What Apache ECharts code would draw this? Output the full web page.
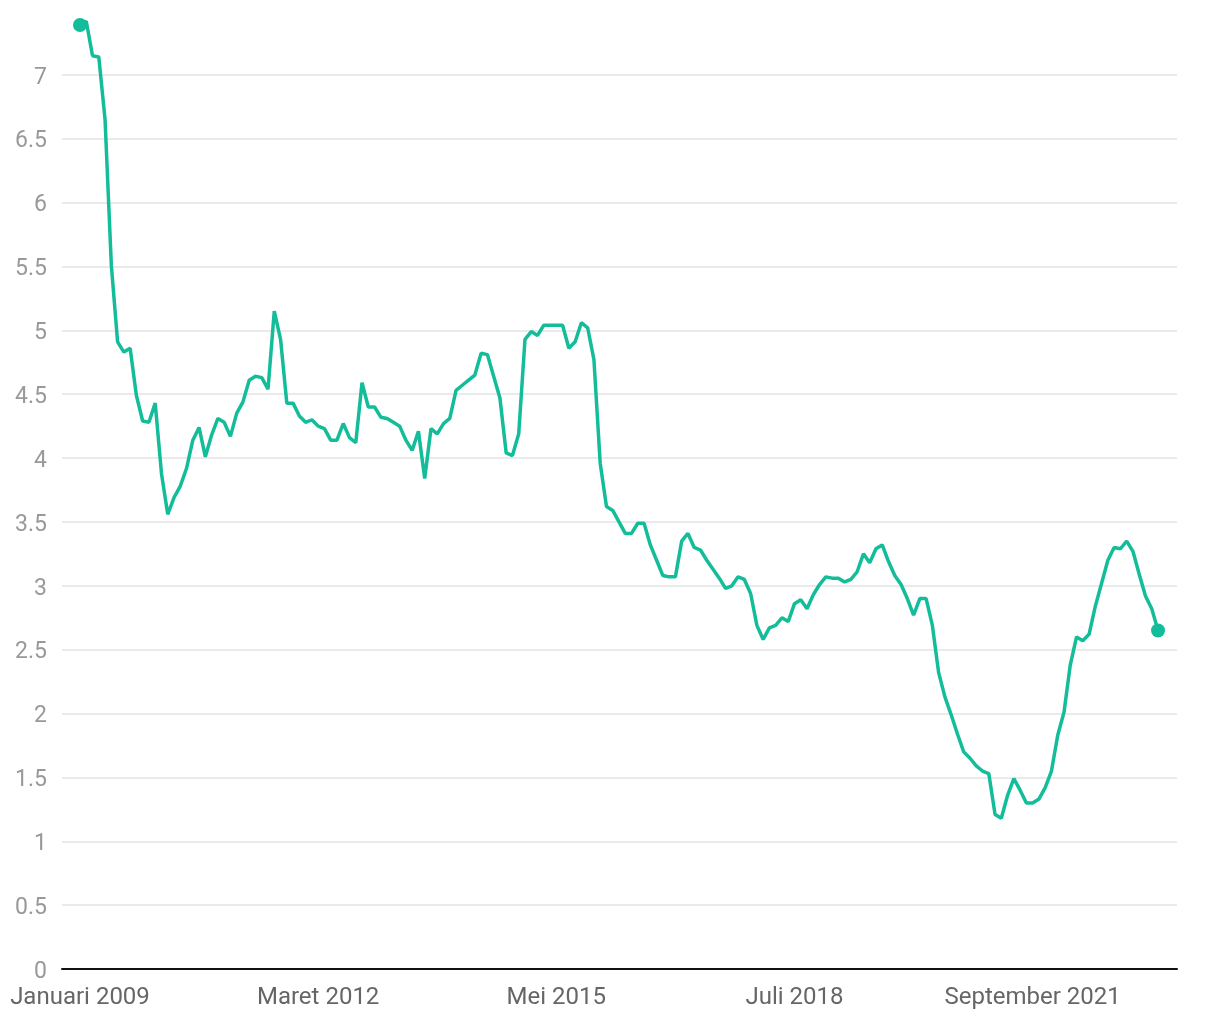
<!DOCTYPE html>
<html>
<head>
<meta charset="utf-8">
<script src="https://cdn.jsdelivr.net/npm/echarts@6/dist/echarts.min.js"></script>
<style>
html,body{margin:0;padding:0;background:#fff;}
#chart{width:1220px;height:1020px;}
</style>
</head>
<body>
<div id="chart"></div>
<script>
const monthNames = ["Januari","Februari","Maret","April","Mei","Juni","Juli","Agustus","September","Oktober","November","Desember"];
const startYear = 2009;
const values = [
7.39,7.42,7.15,7.14,6.65,5.51,4.91,4.83,4.86,4.49,4.29,4.28,
4.43,3.88,3.56,3.69,3.78,3.92,4.14,4.24,4.01,4.18,4.31,4.28,
4.17,4.35,4.44,4.61,4.64,4.63,4.54,5.15,4.93,4.43,4.43,4.33,
4.28,4.30,4.25,4.23,4.14,4.14,4.27,4.16,4.12,4.59,4.40,4.40,
4.32,4.31,4.28,4.25,4.14,4.06,4.21,3.84,4.23,4.19,4.27,4.31,
4.53,4.57,4.61,4.65,4.82,4.81,4.64,4.47,4.04,4.02,4.19,4.93,
4.99,4.96,5.04,5.04,5.04,5.04,4.86,4.91,5.06,5.02,4.77,3.96,
3.62,3.59,3.50,3.41,3.41,3.49,3.49,3.32,3.20,3.08,3.07,3.07,
3.35,3.41,3.30,3.28,3.20,3.13,3.06,2.98,3.00,3.07,3.05,2.94,
2.69,2.58,2.67,2.69,2.75,2.72,2.86,2.89,2.82,2.93,3.01,3.07,
3.06,3.06,3.03,3.05,3.11,3.25,3.18,3.29,3.32,3.19,3.08,3.01,
2.90,2.77,2.90,2.90,2.69,2.32,2.13,1.99,1.84,1.70,1.65,1.59,
1.55,1.53,1.21,1.18,1.36,1.49,1.40,1.30,1.30,1.33,1.42,1.55,
1.83,2.01,2.38,2.60,2.57,2.62,2.84,3.02,3.20,3.30,3.29,3.35,
3.27,3.09,2.92,2.82,2.65
];
const categories = values.map((_, i) => monthNames[i % 12] + " " + (startYear + Math.floor(i / 12)));
const xTickIndices = [0, 38, 76, 114, 152];

const seriesData = values.map((v, i) => [i, v]);
const lastIdx = values.length - 1;

const chart = echarts.init(document.getElementById('chart'), null, {renderer: 'canvas'});
chart.setOption({
  animation: false,
  backgroundColor: '#ffffff',
  textStyle: {fontFamily: 'Roboto'},
  grid: {left: 62, right: 43, top: 11, bottom: 51, containLabel: false},
  xAxis: {
    type: 'value',
    min: -2.87,
    max: lastIdx + 3.03,
    axisLine: {show: true, lineStyle: {color: '#111', width: 2}},
    axisTick: {show: false},
    splitLine: {show: false},
    axisLabel: {
      customValues: xTickIndices,
      formatter: v => categories[Math.round(v)] || '',
      color: '#666',
      fontSize: 24,
      fontFamily: 'Roboto',
      margin: 17
    }
  },
  yAxis: {
    type: 'value',
    min: 0,
    max: 7.5,
    interval: 0.5,
    axisLine: {show: false},
    axisTick: {show: false},
    splitLine: {show: true, showMaxLine: false, showMinLine: false, lineStyle: {color: '#e3e3e3', width: 1.5}},
    axisLabel: {
      showMaxLabel: false,
      color: '#999',
      fontSize: 23,
      fontFamily: 'Roboto',
      margin: 15,
      formatter: v => '{a|' + v + '}',
      rich: {
        a: {color: '#999', fontSize: 23, fontFamily: 'Roboto', padding: [6, 0, 0, 0]}
      }
    }
  },
  series: [{
    type: 'line',
    data: seriesData,
    showSymbol: true,
    showAllSymbol: true,
    symbol: 'circle',
    symbolSize: (val, params) => (params.dataIndex === 0 || params.dataIndex === lastIdx) ? 14 : 0,
    itemStyle: {color: '#13bd9a'},
    lineStyle: {color: '#13bd9a', width: 3.5},
    z: 3
  }]
});
</script>
</body>
</html>
